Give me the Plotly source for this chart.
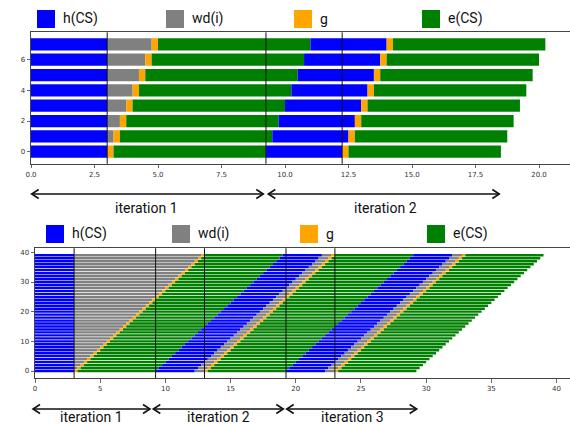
import plotly.graph_objects as go

W, H = 570, 425

# ---------------- data ----------------
legend_labels = ["h(CS)", "wd(i)", "g", "e(CS)"]
seg_colors = ["#0000ff", "#808080", "#ffa500", "#008000"]

# Top chart: 8 workers, 2 iterations (durations of each stacked segment)
top_workers = [0, 1, 2, 3, 4, 5, 6, 7]
top_h_cs = [3.0, 3.0, 3.0, 3.0, 3.0, 3.0, 3.0, 3.0]
top_g = [0.25, 0.25, 0.25, 0.25, 0.25, 0.25, 0.25, 0.25]
top_e_cs = [6.0, 6.0, 6.0, 6.0, 6.0, 6.0, 6.0, 6.0]
top_wd_iter1 = [0.0, 0.25, 0.5, 0.75, 1.0, 1.25, 1.5, 1.75]
top_wd_iter2 = [0.0, 0.0, 0.0, 0.0, 0.0, 0.0, 0.0, 0.0]
top_vlines = [3.0, 9.25, 12.25]
top_xticks = [0.0, 2.5, 5.0, 7.5, 10.0, 12.5, 15.0, 17.5, 20.0]
top_yticks = [0, 2, 4, 6]

# Bottom chart: 40 workers, 3 iterations
bot_workers = [0, 1, 2, 3, 4, 5, 6, 7, 8, 9, 10, 11, 12, 13, 14, 15, 16, 17, 18, 19,
               20, 21, 22, 23, 24, 25, 26, 27, 28, 29, 30, 31, 32, 33, 34, 35, 36, 37, 38, 39]
bot_h_cs = [3.0, 3.0, 3.0, 3.0, 3.0, 3.0, 3.0, 3.0, 3.0, 3.0, 3.0, 3.0, 3.0, 3.0, 3.0, 3.0, 3.0, 3.0, 3.0, 3.0,
            3.0, 3.0, 3.0, 3.0, 3.0, 3.0, 3.0, 3.0, 3.0, 3.0, 3.0, 3.0, 3.0, 3.0, 3.0, 3.0, 3.0, 3.0, 3.0, 3.0]
bot_g = [0.25, 0.25, 0.25, 0.25, 0.25, 0.25, 0.25, 0.25, 0.25, 0.25, 0.25, 0.25, 0.25, 0.25, 0.25, 0.25, 0.25, 0.25, 0.25, 0.25,
         0.25, 0.25, 0.25, 0.25, 0.25, 0.25, 0.25, 0.25, 0.25, 0.25, 0.25, 0.25, 0.25, 0.25, 0.25, 0.25, 0.25, 0.25, 0.25, 0.25]
bot_e_cs = [6.0, 6.0, 6.0, 6.0, 6.0, 6.0, 6.0, 6.0, 6.0, 6.0, 6.0, 6.0, 6.0, 6.0, 6.0, 6.0, 6.0, 6.0, 6.0, 6.0,
            6.0, 6.0, 6.0, 6.0, 6.0, 6.0, 6.0, 6.0, 6.0, 6.0, 6.0, 6.0, 6.0, 6.0, 6.0, 6.0, 6.0, 6.0, 6.0, 6.0]
bot_wd_iter1 = [0.0, 0.25, 0.5, 0.75, 1.0, 1.25, 1.5, 1.75, 2.0, 2.25, 2.5, 2.75, 3.0, 3.25, 3.5, 3.75,
                4.0, 4.25, 4.5, 4.75, 5.0, 5.25, 5.5, 5.75, 6.0, 6.25, 6.5, 6.75, 7.0, 7.25, 7.5, 7.75,
                8.0, 8.25, 8.5, 8.75, 9.0, 9.25, 9.5, 9.75]
bot_wd_iter2 = [0.75, 0.75, 0.75, 0.75, 0.75, 0.75, 0.75, 0.75, 0.75, 0.75, 0.75, 0.75, 0.75, 0.75, 0.75, 0.75, 0.75, 0.75, 0.75, 0.75,
                0.75, 0.75, 0.75, 0.75, 0.75, 0.75, 0.75, 0.75, 0.75, 0.75, 0.75, 0.75, 0.75, 0.75, 0.75, 0.75, 0.75, 0.75, 0.75, 0.75]
bot_wd_iter3 = [0.75, 0.75, 0.75, 0.75, 0.75, 0.75, 0.75, 0.75, 0.75, 0.75, 0.75, 0.75, 0.75, 0.75, 0.75, 0.75, 0.75, 0.75, 0.75, 0.75,
                0.75, 0.75, 0.75, 0.75, 0.75, 0.75, 0.75, 0.75, 0.75, 0.75, 0.75, 0.75, 0.75, 0.75, 0.75, 0.75, 0.75, 0.75, 0.75, 0.75]
bot_vlines = [3.0, 9.25, 13.0, 19.25, 23.0]
bot_xticks = [0, 5, 10, 15, 20, 25, 30, 35, 40]
bot_yticks = [0, 10, 20, 30, 40]

iteration_labels_top = ["iteration 1", "iteration 2"]
iteration_labels_bot = ["iteration 1", "iteration 2", "iteration 3"]

# ---------------- figure ----------------
fig = go.Figure()


def add_schedule(rows, iter_wds, h, g, e, xa, ya, width):
    for wd in iter_wds:
        for vals, col in zip([h, wd, g, e], seg_colors):
            fig.add_trace(go.Bar(
                y=rows, x=vals, orientation="h", width=width,
                marker=dict(color=col, line=dict(width=0)),
                xaxis=xa, yaxis=ya, showlegend=False, hoverinfo="skip"))


add_schedule(top_workers, [top_wd_iter1, top_wd_iter2], top_h_cs, top_g, top_e_cs, "x", "y", 0.8)
add_schedule(bot_workers, [bot_wd_iter1, bot_wd_iter2, bot_wd_iter3], bot_h_cs, bot_g, bot_e_cs, "x2", "y2", 0.8)


def px(x):
    return x / W


def py(y):
    return 1 - y / H


tickfont = dict(family="DejaVu Sans", size=7, color="#333333")
axis_common = dict(showgrid=False, zeroline=False, showline=True, linecolor="#444444", linewidth=1,
                   ticks="outside", ticklen=3.5, tickwidth=0.8, tickcolor="#444444", tickfont=tickfont,
                   automargin=False)

fig.update_layout(
    width=W, height=H, autosize=False,
    margin=dict(l=0, r=0, t=0, b=0, pad=0),
    paper_bgcolor="white", plot_bgcolor="white",
    barmode="stack", bargap=0,
    xaxis=dict(domain=[px(31), 1], range=[0, 21.22], anchor="y", tickvals=top_xticks,
               tickformat=".1f", mirror=True, **axis_common),
    yaxis=dict(domain=[py(163.8), py(32.3)], range=[-0.79, 7.79], anchor="x", tickvals=top_yticks,
               **axis_common),
    xaxis2=dict(domain=[px(35), 1], range=[0, 41.03], anchor="y2", tickvals=bot_xticks,
                mirror=True, **axis_common),
    yaxis2=dict(domain=[py(378.1), py(248.2)], range=[-2.39, 41.39], anchor="x2", tickvals=bot_yticks,
                **axis_common),
)

shapes = []
for v in top_vlines:
    shapes.append(dict(type="line", xref="x", yref="y domain", x0=v, x1=v, y0=0, y1=1,
                       line=dict(color="#111111", width=1), layer="above"))
for v in bot_vlines:
    shapes.append(dict(type="line", xref="x2", yref="y2 domain", x0=v, x1=v, y0=0, y1=1,
                       line=dict(color="#111111", width=1), layer="above"))

annotations = []

# custom legends (big square swatches)
legend_rows = [
    (19, [37, 166, 294, 422]),
    (234, [46, 172, 300, 427]),
]
for yc, xs in legend_rows:
    for lab, col, x0 in zip(legend_labels, seg_colors, xs):
        shapes.append(dict(type="rect", xref="paper", yref="paper",
                           x0=px(x0), x1=px(x0 + 18), y0=py(yc + 9), y1=py(yc - 9),
                           fillcolor=col, line=dict(width=0)))
        annotations.append(dict(xref="paper", yref="paper", x=px(x0 + 24), y=py(yc),
                                xanchor="left", yanchor="middle", showarrow=False, text=lab,
                                font=dict(family="Roboto", size=14, color="#111111")))


def double_arrow(x0, x1, y):
    shapes.append(dict(type="line", xref="paper", yref="paper", x0=px(x0), x1=px(x1), y0=py(y), y1=py(y),
                       line=dict(color="#111111", width=1.6)))
    path_l = f"M {px(x0 + 7)},{py(y - 4.5)} L {px(x0)},{py(y)} L {px(x0 + 7)},{py(y + 4.5)}"
    path_r = f"M {px(x1 - 7)},{py(y - 4.5)} L {px(x1)},{py(y)} L {px(x1 - 7)},{py(y + 4.5)}"
    for p in (path_l, path_r):
        shapes.append(dict(type="path", xref="paper", yref="paper", path=p,
                           line=dict(color="#111111", width=1.6)))


top_arrows = [(31.7, 263.3, 146.7), (268.3, 499.3, 385.0)]
for (a, b, tx), lab in zip(top_arrows, iteration_labels_top):
    double_arrow(a, b, 194)
    annotations.append(dict(xref="paper", yref="paper", x=px(tx), y=py(208), xanchor="center",
                            yanchor="middle", showarrow=False, text=lab,
                            font=dict(family="Roboto", size=14, color="#111111")))

bot_arrows = [(33, 150, 91), (153.3, 283.3, 218.3), (286.7, 416.7, 352)]
for (a, b, tx), lab in zip(bot_arrows, iteration_labels_bot):
    double_arrow(a, b, 409)
    annotations.append(dict(xref="paper", yref="paper", x=px(tx), y=0.0, xanchor="center",
                            yanchor="bottom", yshift=-2, showarrow=False, text=lab,
                            font=dict(family="Roboto", size=14, color="#111111")))

fig.update_layout(shapes=shapes, annotations=annotations)
fig.write_html(
    "out.html",
    config={"displayModeBar": False, "staticPlot": True},
    post_script=(
        "document.body.style.margin='0';document.body.style.overflow='hidden';"
        "document.querySelectorAll('.bars path').forEach(function(p){"
        "p.style.shapeRendering='geometricPrecision';});"
    ),
)
